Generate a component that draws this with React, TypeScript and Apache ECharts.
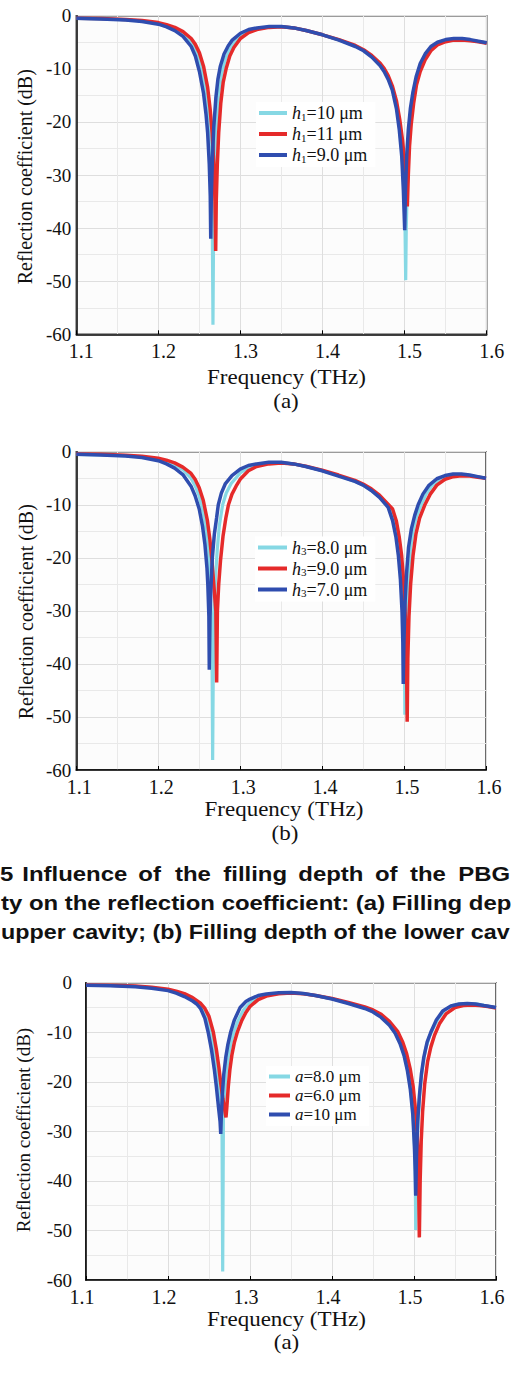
import React, { useEffect, useRef } from "react";
import * as echarts from "echarts";

// ---------- data (frequency THz, reflection dB) ----------
const namesA = ["h1=10 μm", "h1=11 μm", "h1=9.0 μm"];
const namesB = ["h3=8.0 μm", "h3=9.0 μm", "h3=7.0 μm"];
const namesC = ["a=8.0 μm", "a=6.0 μm", "a=10 μm"];

const aCyan: [number, number][] = [[1.10,-0.5],[1.13,-0.6],[1.16,-0.75],[1.18,-1.0],[1.20,-1.45],[1.21,-1.9],[1.22,-2.5],[1.23,-3.4],[1.24,-5.0],[1.245,-6.4],[1.25,-8.6],[1.255,-11.8],[1.258,-14.8],[1.261,-19],[1.263,-24],[1.2648,-32],[1.2658,-42],[1.2665,-58.2],[1.2672,-42],[1.268,-32],[1.2695,-24],[1.2715,-18.5],[1.274,-14],[1.277,-11],[1.281,-8.5],[1.286,-6.6],[1.292,-5.2],[1.30,-3.8],[1.31,-2.9],[1.32,-2.45],[1.335,-2.1],[1.35,-2.05],[1.365,-2.3],[1.38,-2.8],[1.40,-3.6],[1.42,-4.55],[1.44,-5.7],[1.45,-6.5],[1.46,-7.6],[1.47,-9.1],[1.475,-10.2],[1.48,-11.6],[1.485,-13.6],[1.49,-16.8],[1.4935,-20.5],[1.4965,-25.5],[1.499,-32],[1.5005,-40],[1.5013,-49.8],[1.502,-40],[1.5033,-32],[1.5052,-25],[1.508,-18.5],[1.511,-14.8],[1.515,-11.8],[1.52,-9.4],[1.526,-7.5],[1.533,-6.1],[1.54,-5.2],[1.55,-4.7],[1.56,-4.4],[1.57,-4.4],[1.58,-4.6],[1.59,-4.9],[1.60,-5.1]];
const aRed: [number, number][] = [[1.10,-0.5],[1.13,-0.55],[1.16,-0.7],[1.18,-0.9],[1.20,-1.3],[1.21,-1.7],[1.22,-2.2],[1.23,-3.0],[1.24,-4.3],[1.245,-5.4],[1.25,-7.0],[1.255,-9.5],[1.26,-13.5],[1.263,-17.5],[1.2655,-22],[1.2675,-28],[1.269,-35],[1.2698,-44.3],[1.2705,-35],[1.2718,-28],[1.2735,-22],[1.276,-16.5],[1.279,-12.5],[1.2825,-10],[1.287,-7.6],[1.292,-6.0],[1.30,-4.3],[1.31,-3.2],[1.32,-2.6],[1.335,-2.2],[1.35,-2.1],[1.365,-2.3],[1.38,-2.8],[1.40,-3.6],[1.42,-4.5],[1.44,-5.6],[1.45,-6.4],[1.46,-7.5],[1.47,-8.9],[1.475,-9.9],[1.48,-11.3],[1.485,-13.2],[1.49,-16],[1.494,-19.5],[1.4975,-23.5],[1.5005,-28.5],[1.5025,-32.5],[1.5033,-35.9],[1.5045,-30],[1.506,-24.5],[1.508,-20.5],[1.511,-16.5],[1.5145,-13],[1.519,-10.5],[1.525,-8.3],[1.532,-6.6],[1.54,-5.5],[1.55,-4.9],[1.56,-4.6],[1.57,-4.6],[1.58,-4.7],[1.59,-4.9],[1.60,-5.2]];
const aBlue: [number, number][] = [[1.10,-0.5],[1.13,-0.6],[1.16,-0.8],[1.18,-1.1],[1.20,-1.6],[1.21,-2.1],[1.22,-2.8],[1.23,-3.9],[1.24,-5.8],[1.245,-7.6],[1.25,-10.5],[1.255,-14.6],[1.258,-18.5],[1.26,-22],[1.262,-28],[1.2632,-34],[1.2638,-42],[1.2645,-34],[1.2658,-27],[1.2675,-21],[1.27,-15.5],[1.2725,-12],[1.2755,-9.5],[1.28,-7.2],[1.285,-5.7],[1.29,-4.6],[1.30,-3.3],[1.31,-2.6],[1.32,-2.3],[1.335,-2.05],[1.35,-2.05],[1.365,-2.3],[1.38,-2.8],[1.40,-3.6],[1.42,-4.6],[1.44,-5.8],[1.45,-6.6],[1.46,-7.8],[1.47,-9.4],[1.475,-10.5],[1.48,-12],[1.485,-14],[1.49,-17.5],[1.4935,-21.5],[1.4965,-26.5],[1.4985,-33],[1.5001,-40.4],[1.501,-33],[1.5025,-26.5],[1.5045,-21.5],[1.507,-17.5],[1.51,-14.5],[1.514,-11.5],[1.519,-9],[1.525,-7.2],[1.532,-5.8],[1.54,-5.0],[1.55,-4.5],[1.56,-4.3],[1.57,-4.3],[1.58,-4.5],[1.59,-4.8],[1.60,-5.1]];

const bCyan: [number, number][] = [[1.10,-0.5],[1.13,-0.6],[1.16,-0.75],[1.18,-1.0],[1.20,-1.45],[1.21,-1.9],[1.22,-2.5],[1.23,-3.4],[1.24,-5.0],[1.245,-6.4],[1.25,-8.4],[1.255,-11.6],[1.258,-14.6],[1.261,-19],[1.263,-24],[1.2648,-32],[1.2658,-42],[1.2664,-58.1],[1.2671,-42],[1.268,-32],[1.2698,-24],[1.272,-18.5],[1.2745,-14],[1.2786,-10],[1.283,-7.8],[1.289,-6],[1.30,-4.0],[1.31,-3.0],[1.32,-2.5],[1.335,-2.1],[1.35,-2.05],[1.365,-2.3],[1.38,-2.8],[1.40,-3.6],[1.42,-4.5],[1.44,-5.6],[1.45,-6.3],[1.46,-7.3],[1.47,-8.5],[1.4833,-10.5],[1.488,-13],[1.492,-16],[1.495,-19.5],[1.4975,-24.5],[1.4995,-31],[1.5005,-38],[1.501,-49.6],[1.5017,-38],[1.503,-30],[1.505,-24],[1.5078,-18.5],[1.511,-15],[1.515,-12.3],[1.521,-10],[1.527,-8],[1.534,-6.4],[1.545,-5.0],[1.555,-4.5],[1.565,-4.3],[1.575,-4.35],[1.585,-4.6],[1.60,-5.0]];
const bRed: [number, number][] = [[1.10,-0.45],[1.13,-0.5],[1.16,-0.65],[1.18,-0.85],[1.20,-1.25],[1.21,-1.6],[1.22,-2.1],[1.23,-2.9],[1.24,-4.1],[1.245,-5.2],[1.25,-6.8],[1.255,-9.2],[1.26,-13],[1.263,-16.5],[1.2655,-20.5],[1.268,-25.5],[1.2703,-30],[1.2713,-43.5],[1.2722,-30],[1.2738,-25],[1.276,-20.5],[1.279,-16],[1.2825,-12.5],[1.2857,-10],[1.29,-8],[1.295,-6.5],[1.30,-5.2],[1.31,-3.6],[1.32,-2.8],[1.335,-2.3],[1.35,-2.15],[1.365,-2.3],[1.38,-2.75],[1.40,-3.5],[1.42,-4.4],[1.44,-5.4],[1.45,-6.1],[1.46,-7.0],[1.47,-8.2],[1.486,-10.8],[1.4905,-13],[1.494,-16],[1.497,-19.5],[1.4995,-24.5],[1.5015,-31],[1.503,-39],[1.5038,-50.9],[1.5046,-39],[1.506,-31],[1.508,-25],[1.511,-19.5],[1.5145,-15.5],[1.519,-12.5],[1.5254,-10],[1.532,-8],[1.54,-6.3],[1.55,-5.2],[1.56,-4.7],[1.57,-4.55],[1.58,-4.6],[1.59,-4.8],[1.60,-5.0]];
const bBlue: [number, number][] = [[1.10,-0.5],[1.13,-0.6],[1.16,-0.8],[1.18,-1.1],[1.20,-1.7],[1.21,-2.3],[1.22,-3.1],[1.23,-4.3],[1.24,-6.5],[1.245,-8.3],[1.25,-10.8],[1.254,-14],[1.257,-17.5],[1.2595,-22],[1.2605,-25],[1.2618,-31],[1.2623,-41.1],[1.2632,-31],[1.2645,-25],[1.266,-20],[1.2685,-15.5],[1.2712,-12.5],[1.2733,-10],[1.277,-7.8],[1.282,-6],[1.29,-4.5],[1.30,-3.3],[1.31,-2.6],[1.32,-2.3],[1.335,-2.0],[1.35,-2.0],[1.365,-2.3],[1.38,-2.8],[1.40,-3.6],[1.42,-4.6],[1.44,-5.6],[1.45,-6.3],[1.46,-7.3],[1.47,-8.6],[1.4806,-10.5],[1.486,-13],[1.49,-16],[1.493,-19.5],[1.4955,-24],[1.4975,-30],[1.4985,-36],[1.499,-43.8],[1.4998,-36],[1.501,-29],[1.503,-23],[1.5055,-18],[1.509,-14.5],[1.513,-12],[1.5172,-10],[1.523,-8],[1.53,-6.4],[1.54,-5.1],[1.55,-4.5],[1.56,-4.2],[1.57,-4.2],[1.58,-4.4],[1.59,-4.7],[1.60,-5.0]];

const cCyan: [number, number][] = [[1.10,-0.5],[1.13,-0.55],[1.16,-0.72],[1.18,-1.0],[1.20,-1.45],[1.21,-1.9],[1.22,-2.5],[1.23,-3.3],[1.24,-4.7],[1.245,-6.1],[1.25,-8.3],[1.2525,-10],[1.256,-13.5],[1.259,-17],[1.2615,-20.5],[1.264,-24],[1.2658,-27],[1.2667,-58.3],[1.2676,-27],[1.269,-22.5],[1.2715,-17.5],[1.274,-14.5],[1.277,-12],[1.2803,-10],[1.2855,-7.6],[1.292,-5.5],[1.30,-4.0],[1.31,-3.0],[1.32,-2.5],[1.335,-2.15],[1.35,-2.05],[1.365,-2.2],[1.38,-2.6],[1.40,-3.25],[1.42,-4.1],[1.44,-5.1],[1.45,-5.8],[1.46,-6.8],[1.47,-8.3],[1.478,-10.2],[1.484,-12.4],[1.489,-15],[1.493,-18.2],[1.4963,-22],[1.499,-27],[1.5008,-34],[1.5016,-40],[1.5021,-49.9],[1.5027,-40],[1.5037,-33],[1.5052,-27],[1.5075,-21.5],[1.5105,-17],[1.514,-13.5],[1.5185,-11],[1.5225,-9.5],[1.529,-7.4],[1.537,-5.6],[1.547,-4.6],[1.557,-4.25],[1.567,-4.2],[1.577,-4.3],[1.587,-4.6],[1.60,-5.0]];
const cRed: [number, number][] = [[1.10,-0.45],[1.13,-0.5],[1.16,-0.65],[1.18,-0.9],[1.20,-1.3],[1.21,-1.7],[1.22,-2.2],[1.23,-3.0],[1.24,-4.2],[1.245,-5.2],[1.25,-6.8],[1.2553,-10],[1.259,-13.5],[1.262,-17],[1.2645,-20.5],[1.267,-23.5],[1.2695,-26],[1.2707,-27.2],[1.2718,-25],[1.2735,-21],[1.2755,-17.5],[1.278,-14.5],[1.281,-12],[1.2845,-10],[1.29,-7.6],[1.295,-6.0],[1.30,-4.8],[1.31,-3.4],[1.32,-2.7],[1.335,-2.25],[1.35,-2.1],[1.365,-2.25],[1.38,-2.6],[1.40,-3.2],[1.42,-4.0],[1.44,-4.9],[1.45,-5.5],[1.46,-6.4],[1.47,-7.8],[1.48,-9.8],[1.486,-11.9],[1.491,-14.3],[1.4955,-17.5],[1.499,-21],[1.502,-26],[1.504,-31],[1.5055,-38],[1.5065,-51.4],[1.5075,-40],[1.5088,-32],[1.5105,-26],[1.513,-20.5],[1.5165,-16],[1.5205,-13],[1.525,-10.6],[1.531,-8.3],[1.539,-6.3],[1.55,-5.0],[1.56,-4.6],[1.57,-4.5],[1.58,-4.6],[1.59,-4.8],[1.60,-5.1]];
const cBlue: [number, number][] = [[1.10,-0.5],[1.13,-0.6],[1.16,-0.8],[1.18,-1.1],[1.20,-1.6],[1.21,-2.1],[1.22,-2.8],[1.23,-3.7],[1.235,-4.3],[1.24,-5.3],[1.245,-7.2],[1.249,-10],[1.253,-13.5],[1.2565,-17.5],[1.259,-21],[1.2615,-25],[1.2635,-28],[1.2643,-30.5],[1.265,-27],[1.2665,-22],[1.268,-18.5],[1.2705,-15],[1.273,-12.5],[1.2764,-10],[1.281,-7.5],[1.288,-5],[1.295,-3.8],[1.30,-3.3],[1.31,-2.6],[1.32,-2.3],[1.335,-2.05],[1.35,-2.0],[1.365,-2.2],[1.38,-2.6],[1.40,-3.3],[1.42,-4.2],[1.44,-5.2],[1.45,-5.9],[1.46,-7.0],[1.47,-8.6],[1.477,-10.2],[1.483,-12.3],[1.488,-14.8],[1.492,-17.8],[1.4955,-21.5],[1.4985,-26.5],[1.5005,-33],[1.5015,-38],[1.5021,-43],[1.503,-35],[1.5045,-28],[1.5065,-23],[1.509,-18.5],[1.512,-15],[1.516,-12],[1.5205,-10],[1.527,-7.6],[1.535,-5.7],[1.545,-4.7],[1.555,-4.3],[1.565,-4.2],[1.575,-4.3],[1.585,-4.6],[1.60,-5.0]];

const xTicks = { min: 1.1, max: 1.6, interval: 0.1 };
const yTicks = { min: -60, max: 0, interval: 10 };

const CYAN = "#86d8e4";
const RED = "#e52a2a";
const BLUE = "#2f4daf";
const SERIF = "'Liberation Serif', 'Times New Roman', serif";
const SANS = "'Liberation Sans', Arial, sans-serif";

function legendName(name: string): string {
  if (name[0] === "h") return `{i|h}{s|${name[1]}}{t|${name.slice(2)}}`;
  return `{i|${name[0]}}{t|${name.slice(1)}}`;
}

function richFor(size: number, lh: number) {
  return {
    i: { fontFamily: SERIF, fontStyle: "italic", fontSize: size, lineHeight: lh, color: "#111" },
    s: { fontFamily: SERIF, fontSize: Math.round(size * 0.6), lineHeight: lh, verticalAlign: "bottom", color: "#111" },
    t: { fontFamily: SERIF, fontSize: size, lineHeight: lh, color: "#111" },
  };
}

function line(idx: number, name: string, data: [number, number][], color: string, width: number, z: number) {
  return {
    type: "line",
    name,
    data,
    xAxisIndex: idx,
    yAxisIndex: idx,
    symbol: "none",
    showSymbol: false,
    smooth: false,
    clip: true,
    z,
    lineStyle: { color, width, cap: "butt", join: "bevel" },
    itemStyle: { color },
  };
}

function xAxis(idx: number, pad: number[]) {
  return {
    type: "value",
    gridIndex: idx,
    ...xTicks,
    axisLine: { show: true, onZero: false, lineStyle: { color: "#000", width: 1.5 } },
    axisTick: { show: true, inside: true, length: 4, lineStyle: { color: "#000", width: 1 } },
    axisLabel: {
      fontFamily: SERIF, fontSize: 20, color: "#111", margin: 7, padding: pad,
      formatter: (v: number) => v.toFixed(1),
    },
    splitLine: { show: true, lineStyle: { color: "#dedede", width: 1 } },
    minorTick: { show: false, splitNumber: 2 },
    minorSplitLine: { show: true, lineStyle: { color: "#e9e9e9", width: 1 } },
  };
}

function yAxis(idx: number, margin: number) {
  return {
    type: "value",
    gridIndex: idx,
    ...yTicks,
    axisLine: { show: true, onZero: false, lineStyle: { color: "#000", width: 1.5 } },
    axisTick: { show: false },
    axisLabel: { fontFamily: SERIF, fontSize: 19, color: "#111", margin },
    splitLine: { show: true, lineStyle: { color: "#dedede", width: 1 } },
    minorTick: { show: false, splitNumber: 2 },
    minorSplitLine: { show: true, lineStyle: { color: "#e9e9e9", width: 1 } },
  };
}

function legend(names: string[], left: number, top: number, iw: number, size: number, lh: number, gap: number) {
  return {
    data: names,
    orient: "vertical",
    left,
    top,
    icon: "rect",
    itemWidth: iw,
    itemHeight: 4,
    itemGap: gap,
    padding: [2, 8, 3, 3],
    backgroundColor: "#ffffff",
    selectedMode: false,
    formatter: legendName,
    textStyle: { fontFamily: SERIF, fontSize: size, color: "#111", lineHeight: lh, rich: richFor(size, lh) },
  };
}

function txt(text: string, x: number, y: number, font: string, align: string, sx = 1, rot = 0) {
  return {
    type: "text",
    x,
    y,
    scaleX: sx,
    rotation: rot,
    silent: true,
    style: { text, font, fill: "#111", textAlign: align, textVerticalAlign: "middle" },
  };
}

const cap1: [string, number][] = [["5", 0], ["Influence", 22.3], ["of", 138.3], ["the", 175], ["filling", 223.3], ["depth", 298.3], ["of", 375], ["the", 410], ["PBG", 458.3]];
const cap2 = "ty on the reflection coefficient: (a) Filling dep";
const cap3 = "upper cavity; (b) Filling depth of the lower cav";

export default function App() {
  const ref = useRef<HTMLDivElement>(null);
  useEffect(() => {
    document.body.style.margin = "0";
    const chart = echarts.init(ref.current!, null, { renderer: "svg" });
    const titleFont = `20px ${SERIF}`;
    const capFont = `bold 21px ${SANS}`;
    const graphics: any[] = [
      txt("Frequency (THz)", 286.5, 377.7, titleFont, "center", 1.15),
      txt("(a)", 286, 401.7, titleFont, "center", 1.15),
      txt("Reflection coefficient (dB)", 25, 176.7, titleFont, "center", 1, Math.PI / 2),
      txt("Frequency (THz)", 284, 810, titleFont, "center", 1.15),
      txt("(b)", 285, 834, titleFont, "center", 1.15),
      txt("Reflection coefficient (dB)", 26, 611.7, titleFont, "center", 1, Math.PI / 2),
      txt("Frequency (THz)", 286.5, 1320, titleFont, "center", 1.15),
      txt("(a)", 286.5, 1342.3, titleFont, "center", 1.15),
      txt("Reflection coefficient (dB)", 23.5, 1130, `19px ${SERIF}`, "center", 1, Math.PI / 2),
      ...cap1.map(([w, x]) => txt(w, x, 874.5, capFont, "left", 1.14)),
      txt(cap2, 1, 903, capFont, "left", 1.14),
      txt(cap3, 1, 932, capFont, "left", 1.11),
    ];
    chart.setOption({
      animation: false,
      grid: [
        { left: 76.3, top: 15.7, width: 410.4, height: 318.6, show: true, backgroundColor: "#fcfcfc", borderColor: "#3a3a3a", borderWidth: 1.5 },
        { left: 76.3, top: 451.7, width: 409.7, height: 318.3, show: true, backgroundColor: "#fcfcfc", borderColor: "#3a3a3a", borderWidth: 1.5 },
        { left: 86, top: 982.7, width: 410, height: 297.3, show: true, backgroundColor: "#fcfcfc", borderColor: "#3a3a3a", borderWidth: 1.5 },
      ],
      xAxis: [xAxis(0, [0, 0, 0, 10]), xAxis(1, [0, 0, 0, 6]), xAxis(2, [0, 8, 0, 0])],
      yAxis: [yAxis(0, 5), yAxis(1, 5), yAxis(2, 14)],
      legend: [
        legend(namesA, 256, 102, 28, 18, 18, 3),
        legend(namesB, 255, 536.5, 29, 18, 18, 3),
        legend(namesC, 266, 1066, 21, 17, 16, 2),
      ],
      series: [
        line(0, namesA[0], aCyan, CYAN, 3.2, 2),
        line(0, namesA[1], aRed, RED, 3.5, 3),
        line(0, namesA[2], aBlue, BLUE, 3.5, 4),
        line(1, namesB[0], bCyan, CYAN, 3.2, 2),
        line(1, namesB[1], bRed, RED, 3.5, 3),
        line(1, namesB[2], bBlue, BLUE, 3.5, 4),
        line(2, namesC[0], cCyan, CYAN, 3.2, 2),
        line(2, namesC[1], cRed, RED, 3.5, 3),
        line(2, namesC[2], cBlue, BLUE, 3.5, 4),
      ],
      graphic: graphics,
    });
    return () => chart.dispose();
  }, []);
  return <div ref={ref} style={{ width: 513, height: 1387 }} />;
}
